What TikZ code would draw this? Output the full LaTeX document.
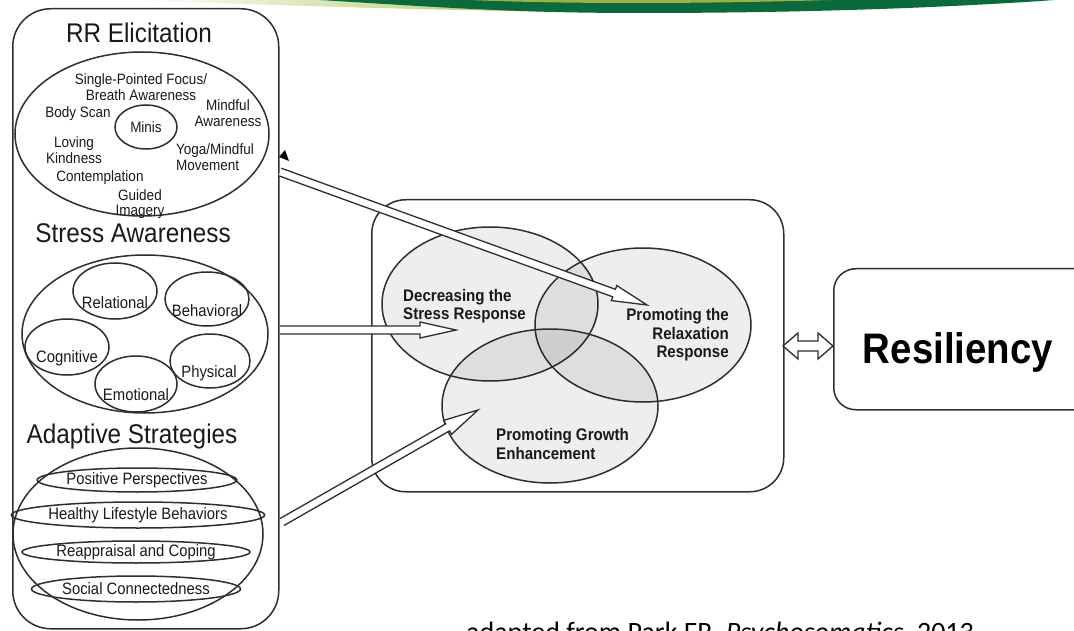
\documentclass[tikz,border=0pt]{standalone}
\usepackage{fontspec}
\setmainfont[FakeStretch=0.9]{Liberation Sans}
\newfontfamily\calibfont{Carlito}
\usetikzlibrary{calc,shapes.geometric}
\definecolor{lc}{HTML}{2E2E2E}
\definecolor{tc}{HTML}{1A1A1A}
\definecolor{swlight}{HTML}{A3C252}
\definecolor{swolive}{HTML}{9DB048}
\definecolor{swdark}{HTML}{0B6A3B}
\tikzset{
  box/.style={draw=lc, line width=1.5pt, rounded corners=38pt, inner sep=0pt},
  ell/.style={draw=lc, line width=1.5pt, ellipse, inner sep=0pt},
  venn/.style={ell, fill=black, fill opacity=0.065, text opacity=1},
  title/.style={text=tc, font=\fontsize{27}{30}\selectfont, anchor=base, inner sep=0pt},
  rrtxt/.style={text=tc, font=\fontsize{15}{15.5}\selectfont, align=center, inner sep=0pt},
  satxt/.style={text=tc, font=\fontsize{16.5}{18}\selectfont, inner sep=0pt},
  astxt/.style={ell, text=tc, font=\fontsize{16.5}{18}\selectfont},
  vtxt/.style={text=tc, font=\bfseries\fontsize{16.8}{18.5}\selectfont, inner sep=0pt},
  arrowline/.style={draw=lc, line width=1.3pt, fill=white, line join=miter},
}
\newcommand\hollowarrow[5]{% start, end, shaft half width, head half width, head length
  \path ($(#2)!#5!(#1)$) coordinate (hb);
  \draw[arrowline] ($(#1)!#3!90:(#2)$) -- ($(hb)!#3!-90:(#1)$) -- ($(hb)!#4!-90:(#1)$) -- (#2)
     -- ($(hb)!#4!90:(#1)$) -- ($(hb)!#3!90:(#1)$) -- ($(#1)!#3!-90:(#2)$);
}
\begin{document}
\begin{tikzpicture}[x=1pt,y=-1pt]
\useasboundingbox (0,0) rectangle (1074,631);
\clip (0,0) rectangle (1074,631);
\fill[white] (0,0) rectangle (1074,631);

% green swoosh at the top
\shade[left color=white, right color=swlight] (125,0) .. controls (300,6) and (450,11) .. (600,12) -- (600,0) -- cycle;
\fill[swdark] (320,0) .. controls (450,8) and (520,13) .. (640,13) .. controls (830,13) and (970,6) .. (1055,0) -- cycle;
\fill[swolive] (470,0) .. controls (560,4) and (700,4) .. (830,0) -- cycle;

% left column
\node[box, minimum width=266pt, minimum height=620pt, anchor=north west] (lb) at (12,8) {};

\node[title] (t1) at (139,43) {RR Elicitation};
\node[ell, minimum width=254pt, minimum height=164pt] (rr) at (142,134) {};
\node[ell, minimum width=62pt, minimum height=44pt, rrtxt] (minis) at (146,127) {Minis};
\node[rrtxt] (sp) at (141,87) {Single-Pointed Focus/\\Breath Awareness};
\node[rrtxt] (mind) at (228,113) {Mindful\\Awareness};
\node[rrtxt] (body) at (78,114) {Body Scan};
\node[rrtxt] (lov) at (74,150) {Loving\\Kindness};
\node[rrtxt, align=left, anchor=west] (yoga) at (176,157) {Yoga/Mindful\\Movement};
\node[rrtxt] (cont) at (100,178) {Contemplation};
\node[rrtxt] (guid) at (140,204) {Guided\\Imagery};

\node[title] (t2) at (133,243) {Stress Awareness};
\node[ell, minimum width=246pt, minimum height=158pt] (sa) at (145,334) {};
\node[ell, minimum width=84pt, minimum height=56pt] (e-rel) at (115,291) {};
\node[ell, minimum width=84pt, minimum height=54pt] (e-beh) at (207,299) {};
\node[ell, minimum width=84pt, minimum height=56pt] (e-cog) at (67,347) {};
\node[ell, minimum width=80pt, minimum height=54pt] (e-phy) at (210,361) {};
\node[ell, minimum width=82pt, minimum height=56pt] (e-emo) at (136,384) {};
\node[satxt] (l-rel) at (115,303) {Relational};
\node[satxt] (l-beh) at (207,311) {Behavioral};
\node[satxt] (l-cog) at (67,358) {Cognitive};
\node[satxt] (l-phy) at (209,373) {Physical};
\node[satxt] (l-emo) at (136,395) {Emotional};

\node[title] (t3) at (132,443) {Adaptive Strategies};
\node[ell, minimum width=250pt, minimum height=172pt] (as) at (138,534) {};
\node[astxt, minimum width=168pt, minimum height=24pt] (pp) at (137,480) {Positive Perspectives};
\node[astxt, minimum width=230pt, minimum height=26pt] (hl) at (138,515) {Healthy Lifestyle Behaviors};
\node[astxt, minimum width=228pt, minimum height=22pt] (rc) at (136,552) {Reappraisal and Coping};
\node[astxt, minimum width=188pt, minimum height=26pt] (sc) at (136,589) {Social Connectedness};

% centre
\node[box, rounded corners=34pt, minimum width=412pt, minimum height=292pt, anchor=north west] (cb) at (371,199) {};
\node[venn, minimum width=216pt, minimum height=154pt] (dec) at (490,304) {};
\node[venn, minimum width=216pt, minimum height=154pt] (rel) at (643,325) {};
\node[venn, minimum width=216pt, minimum height=154pt] (gro) at (550,406) {};
\node[vtxt, align=left, anchor=west] (dect) at (403,306) {Decreasing the\\Stress Response};
\node[vtxt, align=right, anchor=east] (relt) at (729,335) {Promoting the\\Relaxation\\Response};
\node[vtxt, align=left, anchor=west] (grot) at (496,444) {Promoting Growth\\Enhancement};

% resiliency
\node[box, rounded corners=22pt, minimum width=270pt, minimum height=141pt, anchor=north west] (res) at (833,268) {};
\node[text=black, font=\bfseries\fontsize{42.7}{46}\selectfont, anchor=base, inner sep=0pt] (rest) at (958,363) {Resiliency};

% arrows
\coordinate (a1s) at (280,172); \coordinate (a1e) at (647,305);
\coordinate (a2s) at (280,330); \coordinate (a2e) at (456,330);
\coordinate (a3s) at (282,522); \coordinate (a3e) at (478,410);
\hollowarrow{a1s}{a1e}{4pt}{8pt}{35pt}
\hollowarrow{a2s}{a2e}{4pt}{8pt}{36pt}
\hollowarrow{a3s}{a3e}{4pt}{8pt}{35pt}

\coordinate (dl) at (783,346);
\coordinate (dr) at (833,346);
\draw[arrowline] (dl) -- ++(15,-13) -- ++(0,8) -- ++(20,0) -- ++(0,-8) -- (dr)
   -- ++(-15,13) -- ++(0,-8) -- ++(-20,0) -- ++(0,8) -- cycle;

% small black arrowhead
\fill[black] (279,157) -- (285,150) -- (289,161) -- cycle;

% source
\node[text=black, font=\calibfont\fontsize{28}{30}\selectfont, anchor=base west, inner sep=0pt] (src) at (466,641) {adapted from Park ER, \textit{Psychosomatics}, 2013};
\end{tikzpicture}
\end{document}
